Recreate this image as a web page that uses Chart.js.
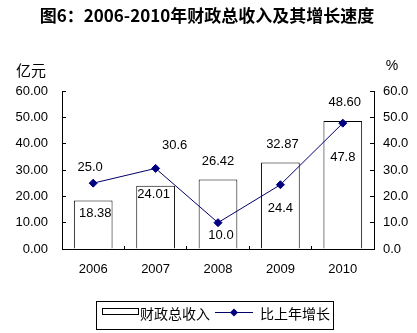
<!DOCTYPE html>
<html>
<head>
<meta charset="utf-8">
<script src="https://cdn.jsdelivr.net/npm/chart.js@4.4.0/dist/chart.umd.min.js"></script>
<style>
  html, body { margin: 0; padding: 0; background: #fff; }
  #revenue-chart { display: block; }
</style>
</head>
<body>
<canvas id="revenue-chart" width="417" height="333"></canvas>
<script>
const ctx = document.getElementById("revenue-chart");

// Years on the x axis
const years = ["2006", "2007", "2008", "2009", "2010"];
// Total fiscal revenue (亿元)
const revenue = [18.38, 24.01, 26.42, 32.87, 48.60];
// Growth over previous year (%)
const growth = [25.0, 30.6, 10.0, 24.4, 47.8];

const chartTitle = "图6：2006-2010年财政总收入及其增长速度";
const revenueName = "财政总收入";
const growthName = "比上年增长";

// Nudges for the value labels (pixels from the mark)
const revenueLabelShift = [[2, 13], [-2, 9], [0, -18], [2, -18], [2, -19]];
const growthLabelShift = [[-3, -16], [19, -23], [3, 13], [0, 24], [0, 34]];

const latin = "'Liberation Sans', Arial, sans-serif";
const cjk = "'Noto Sans CJK SC', sans-serif";

// Title, unit captions, value labels and the boxed legend
const decorations = {
  id: "decorations",
  afterDraw(chart) {
    const c = chart.ctx;
    c.save();
    c.fillStyle = "#000";
    c.textAlign = "center";
    c.textBaseline = "middle";

    c.font = "bold 17px " + cjk;
    c.fillText(chartTitle, 207, 16);

    c.font = "15px " + cjk;
    c.fillText("亿元", 31, 70);
    c.font = "14px " + latin;
    c.fillText("%", 392, 66);

    // value labels
    c.font = "13px " + latin;
    const bars = chart.getDatasetMeta(0).data;
    bars.forEach((el, i) => {
      const [dx, dy] = revenueLabelShift[i];
      c.fillText(revenue[i].toFixed(2), el.x + dx, el.y + dy);
    });
    const pts = chart.getDatasetMeta(1).data;
    pts.forEach((el, i) => {
      const [dx, dy] = growthLabelShift[i];
      c.fillText(growth[i].toFixed(1), el.x + dx, el.y + dy);
    });

    // legend box
    c.strokeStyle = "#000";
    c.lineWidth = 1;
    c.strokeRect(96.5, 301.5, 237, 28);
    c.fillStyle = "#fff";
    c.fillRect(102.5, 308.5, 36, 6);
    c.strokeRect(102.5, 308.5, 36, 6);

    c.beginPath();
    c.moveTo(215, 312.5);
    c.lineTo(253, 312.5);
    c.strokeStyle = "#000066";
    c.stroke();
    c.beginPath();
    c.moveTo(234, 308.5);
    c.lineTo(238, 312.5);
    c.lineTo(234, 316.5);
    c.lineTo(230, 312.5);
    c.closePath();
    c.fillStyle = "#000080";
    c.fill();

    c.fillStyle = "#000";
    c.textAlign = "left";
    c.font = "14px " + cjk;
    c.fillText(revenueName, 140, 314);
    c.fillText(growthName, 260, 314);
    c.restore();
  },
};

let myChart = new Chart(ctx, {
  type: "bar",
  plugins: [decorations],
  data: {
    labels: years,
    datasets: [
      {
        type: "bar",
        label: revenueName,
        data: revenue,
        yAxisID: "y",
        backgroundColor: "#ffffff",
        borderColor: "#000000",
        borderWidth: 1,
        categoryPercentage: 1,
        barPercentage: 0.62,
        order: 2,
      },
      {
        type: "line",
        label: growthName,
        data: growth,
        yAxisID: "y1",
        borderColor: "#000066",
        borderWidth: 1,
        pointStyle: "rectRot",
        pointRadius: 4,
        pointBackgroundColor: "#000080",
        pointBorderColor: "#000080",
        pointBorderWidth: 1,
        tension: 0,
        order: 1,
      },
    ],
  },
  options: {
    responsive: false,
    devicePixelRatio: 1,
    animation: false,
    layout: { padding: { top: 91, left: 0, right: 0, bottom: 54 } },
    plugins: {
      legend: { display: false },
      tooltip: { enabled: false },
      title: { display: false },
    },
    scales: {
      x: {
        afterFit: (s) => { s.height = 30; },
        grid: { drawOnChartArea: false, tickLength: -3, color: "#000", offset: true },
        border: { display: true, color: "#000", width: 1 },
        ticks: { color: "#000", font: { size: 13, family: latin }, padding: 16 },
      },
      y: {
        position: "left",
        min: 0,
        max: 60,
        afterFit: (s) => { s.width = 62; },
        grid: { drawOnChartArea: false, tickLength: -4, color: "#000" },
        border: { display: true, color: "#000", width: 1 },
        ticks: {
          stepSize: 10,
          color: "#000",
          padding: 18,
          font: { size: 13, family: latin },
          callback: (v) => Number(v).toFixed(2),
        },
      },
      y1: {
        position: "right",
        min: 0,
        max: 60,
        afterFit: (s) => { s.width = 43; },
        grid: { drawOnChartArea: false, tickLength: -4, color: "#000" },
        border: { display: true, color: "#000", width: 1 },
        ticks: {
          stepSize: 10,
          color: "#000",
          padding: 13,
          font: { size: 13, family: latin },
          callback: (v) => Number(v).toFixed(1),
        },
      },
    },
  },
});
</script>
</body>
</html>
